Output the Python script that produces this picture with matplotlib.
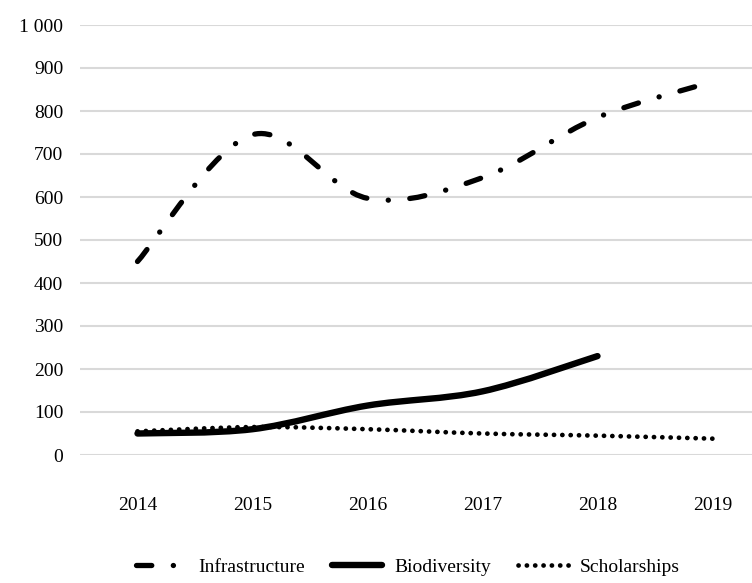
import numpy as np
import matplotlib.pyplot as plt
from matplotlib.path import Path
from matplotlib.patches import PathPatch
from matplotlib.lines import Line2D

plt.rcParams['font.family'] = ['Liberation Serif', 'DejaVu Serif']
plt.rcParams['lines.scale_dashes'] = False

# data
years = ['2014', '2015', '2016', '2017', '2018', '2019']
infrastructure = [450, 745, 597, 645, 785, 868]
biodiversity = [50, 60, 115, 148, 230]
scholarships = [55, 65, 60, 50, 45, 38]
series_names = ['Infrastructure', 'Biodiversity', 'Scholarships']


def smooth_path(ys):
    # Excel-like smoothed line as cubic Bezier segments through the points
    pts = np.column_stack([np.arange(len(ys)), ys]).astype(float)
    ext = np.vstack([pts[0], pts, pts[-1]])
    verts = [pts[0]]
    codes = [Path.MOVETO]
    for i in range(len(pts) - 1):
        p0, p1, p2, p3 = ext[i], ext[i + 1], ext[i + 2], ext[i + 3]
        c1 = p1 + (p2 - p0) / 6
        c2 = p2 - (p3 - p1) / 6
        verts += [c1, c2, p2]
        codes += [Path.CURVE4] * 3
    return Path(verts, codes)


styles = {
    'Infrastructure': dict(lw=3.8, ls=(0, (11.0, 15.5, 0.1, 15.5))),
    'Biodiversity': dict(lw=4.6, ls='-'),
    'Scholarships': dict(lw=3.4, ls=(0, (0.1, 5.9))),
}

fig = plt.figure(figsize=(7.52, 5.83), dpi=100)
ax = fig.add_axes([80 / 752, 1 - 455 / 583, 690 / 752, 430 / 583])

for name, ys in zip(series_names, [infrastructure, biodiversity, scholarships]):
    st = styles[name]
    patch = PathPatch(smooth_path(ys), facecolor='none', edgecolor='black',
                      lw=st['lw'], linestyle=st['ls'], capstyle='round',
                      joinstyle='round', zorder=3)
    ax.add_patch(patch)

ax.set_xlim(-0.5, 5.5)
ax.set_ylim(0, 1000)
ax.set_xticks(range(len(years)))
ax.set_xticklabels(years)
ax.set_yticks(range(0, 1001, 100))
ax.set_yticklabels([f'{v:,}'.replace(',', ' ') for v in range(0, 1001, 100)])
ax.tick_params(axis='both', length=0, labelsize=14)
ax.tick_params(axis='x', pad=30)
ax.tick_params(axis='y', pad=12)
ax.grid(axis='y', color='#d9d9d9', lw=1.5)
ax.set_axisbelow(True)
for s in ax.spines.values():
    s.set_visible(False)

handles = [Line2D([], [], color='black', lw=styles[n]['lw'],
                  linestyle=styles[n]['ls'], solid_capstyle='round',
                  dash_capstyle='round') for n in series_names]
fig.legend(handles, series_names, loc='center', bbox_to_anchor=(408 / 752, 1 - 567 / 583),
           ncol=3, frameon=False, fontsize=14, handlelength=2.6,
           handletextpad=0.6, columnspacing=1.4)

fig.savefig('out.png', dpi=100)
